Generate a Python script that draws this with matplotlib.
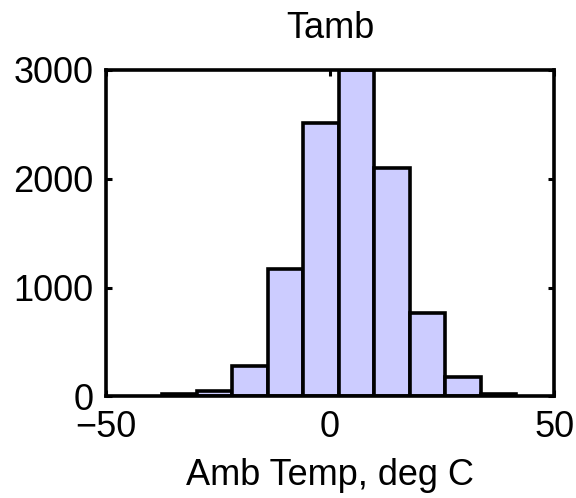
import numpy as np
import matplotlib
matplotlib.use("Agg")
import matplotlib.pyplot as plt

# Histogram of ambient temperature
bin_edges = np.linspace(-37.6, 41.5, 11)
counts = [23, 48, 276, 1169, 2512, 2995, 2098, 764, 176, 20]
x_ticks = [-50, 0, 50]
y_ticks = [0, 1000, 2000, 3000]

plt.rcParams['font.family'] = ['Liberation Sans', 'DejaVu Sans']

fig = plt.figure(figsize=(5.76, 4.98), dpi=100)
ax = fig.add_axes([0.184, 0.204, 0.778, 0.656])

ax.bar(bin_edges[:-1], counts, width=np.diff(bin_edges), align='edge',
       color='#ccccff', edgecolor='black', linewidth=2.6, zorder=2)

ax.set_xlim(-50, 50)
ax.set_ylim(0, 3000)
ax.set_xticks(x_ticks)
ax.set_yticks(y_ticks)
for s in ax.spines.values():
    s.set_linewidth(2.6)
    s.set_zorder(3)
ax.tick_params(direction='in', length=4, width=2.2, labelsize=26,
               top=True, right=True)
ax.tick_params(axis='x', pad=10)
ax.tick_params(axis='y', pad=9)
ax.set_title('Tamb', fontsize=26, pad=23)
ax.set_xlabel('Amb Temp, deg C', fontsize=26, labelpad=9)

fig.savefig('out.png', dpi=100)
